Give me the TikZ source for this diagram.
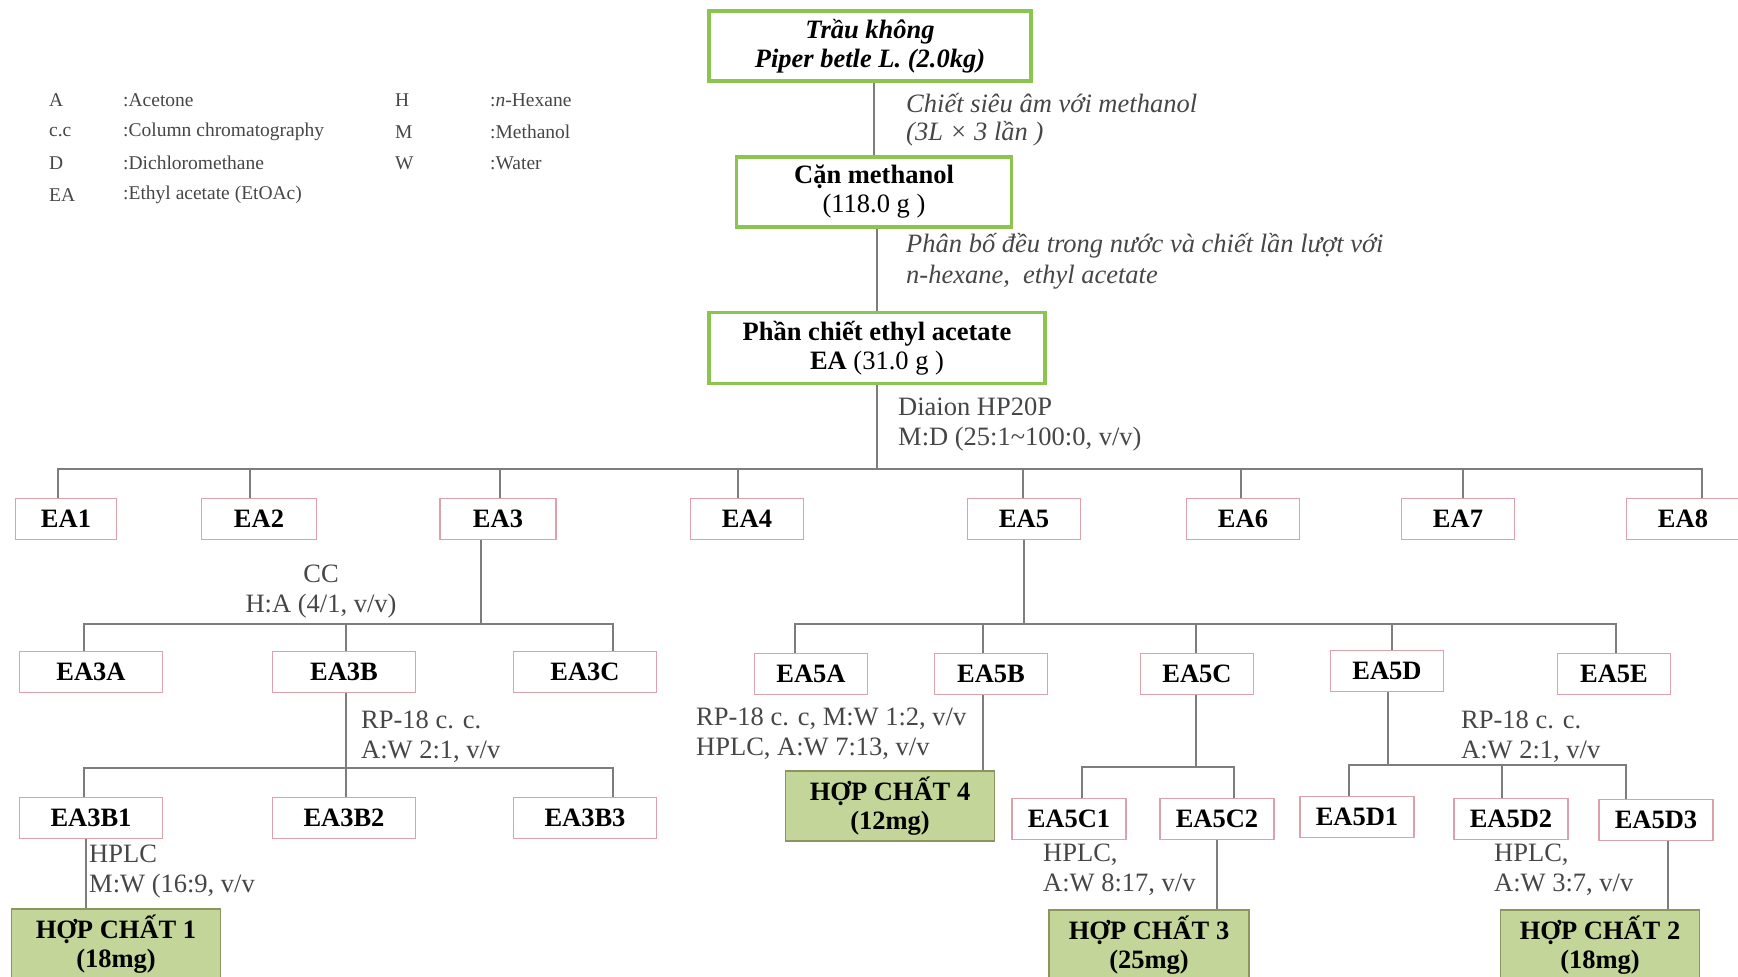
\documentclass[tikz,border=0pt]{standalone}
\usepackage{fontspec}
\setmainfont{Liberation Serif}
\usepackage{tikz}

\definecolor{boxgreen}{RGB}{140,196,80}
\definecolor{boxpink}{RGB}{222,160,170}
\definecolor{linegray}{RGB}{125,125,125}
\definecolor{hcfill}{RGB}{195,213,152}
\definecolor{hcedge}{RGB}{140,148,95}
\definecolor{txtgray}{RGB}{70,70,70}

\begin{document}
\begin{tikzpicture}[x=1pt, y=-1pt,
  every node/.style={inner sep=0pt, align=center},
  topbox/.style={draw=boxgreen, line width=3.5pt, font=\fontsize{26.5}{29}\selectfont},
  eabox/.style={draw=boxpink, line width=1.5pt, minimum height=41pt, font=\fontsize{26.5}{29}\selectfont\bfseries},
  hcbox/.style={draw=hcedge, fill=hcfill, line width=1.5pt, minimum height=70pt, font=\fontsize{26.5}{29}\selectfont\bfseries},
  note/.style={align=left, anchor=west, text=txtgray, font=\fontsize{26.5}{30}\selectfont},
  legend/.style={anchor=west, text=txtgray, font=\fontsize{19.5}{22}\selectfont},
  conn/.style={draw=linegray, line width=1.5pt}]

\useasboundingbox (0,0) rectangle (1738,977);

% Legend
\foreach \k/\v/\y in {A/:Acetone/100, c.c/:Column chromatography/132, D/:Dichloromethane/163, EA/:Ethyl acetate (EtOAc)/195} {
    \node[legend] (abbr\k) at (49,\y) {\k};
    \node[legend] (expl\k) at (123,\y) {\v};
}
\foreach \k/\v/\y in {H/:\textit{n}-Hexane/100, M/:Methanol/132, W/:Water/163} {
    \node[legend] (abbr\k) at (395,\y) {\k};
    \node[legend] (expl\k) at (490,\y) {\v};
}

% Extraction steps
\node[topbox, minimum width=322, minimum height=70] (trau) at (870,46)
    {\textbf{\textit{Trầu không}}\\\textbf{\textit{Piper betle L. (2.0kg)}}};
\node[topbox, minimum width=275, minimum height=70] (can) at (874,192)
    {\textbf{Cặn methanol}\\(118.0 g )};
\node[topbox, minimum width=336, minimum height=71] (phan) at (877,348)
    {\textbf{Phần chiết ethyl acetate}\\\textbf{EA} (31.0 g )};

\draw[conn] (can.north) -- (can.north |- trau.south);
\draw[conn] (phan.north) -- (phan.north |- can.south);

\node[note, font=\fontsize{26.5}{28}\selectfont\itshape] (step1) at (906,120)
    {Chiết siêu âm với methanol\\(3L × 3 lần )};
\node[note, font=\fontsize{26.5}{31}\selectfont\itshape] (step2) at (906,261)
    {Phân bố đều trong nước và chiết lần lượt với\\n-hexane,\ \ ethyl acetate};
\node[note] (step3) at (898,425) {Diaion HP20P\\M:D (25:1\textasciitilde100:0, v/v)};

% First fractions EA1 - EA8
\foreach \i/\x/\w in {1/66/101, 2/259/115, 3/498/116, 4/747/113, 5/1024/113, 6/1243/113, 7/1458/113, 8/1683/113} {
    \node[eabox, minimum width=\w] (ea\i) at (\x,519) {EA\i};
}
\coordinate (bus1) at (877,469);
\draw[conn] (phan.south) -- (bus1);
\foreach \i/\dx in {1/-8, 2/-9, 3/2, 4/-9, 5/-1, 6/-2, 7/5, 8/19} {
    \draw[conn] ([xshift=\dx]ea\i.north) |- (bus1);
}

% Fractions of EA3
\foreach \n/\x in {A/91, B/344, C/585} {
    \node[eabox, minimum width=143] (ea3\n) at (\x,672) {EA3\n};
}
\coordinate (bus2) at (481,624);
\draw[conn] ([xshift=-17]ea3.south) -- (bus2);
\foreach \n/\dx in {A/-7, B/2, C/28} {
    \draw[conn] ([xshift=\dx]ea3\n.north) |- (bus2);
}
\node[text=txtgray, font=\fontsize{26.5}{30}\selectfont] (cc3) at (321,592) {CC\\H:A (4/1, v/v)};

% Fractions of EA3B
\foreach \n/\x in {1/91, 2/344, 3/585} {
    \node[eabox, minimum width=143] (ea3b\n) at (\x,818) {EA3B\n};
}
\coordinate (bus3) at (346,768);
\draw[conn] ([xshift=2]ea3B.south) -- (bus3);
\foreach \n/\dx in {1/-7, 2/2, 3/28} {
    \draw[conn] ([xshift=\dx]ea3b\n.north) |- (bus3);
}
\node[note] (rp3b) at (361,737) {RP-18 c. c.\\A:W 2:1, v/v};

% Compound 1
\node[hcbox, minimum width=209] (hc1) at (116,944) {HỢP CHẤT 1\\(18mg)};
\draw[conn] ([xshift=-5]ea3b1.south) -- ([xshift=-5]ea3b1.south |- hc1.north);
\node[note] (hplc1) at (89,872) {HPLC\\M:W (16:9, v/v};

% Fractions of EA5
\foreach \n/\x/\y in {A/811/674, B/991/674, C/1197/674, D/1387/671, E/1614/674} {
    \node[eabox, minimum width=113] (ea5\n) at (\x,\y) {EA5\n};
}
\coordinate (bus4) at (1023,624);
\draw[conn] (ea5.south) -- (ea5.south |- bus4);
\foreach \n/\dx in {A/-16, B/-8, C/-1, D/5, E/2} {
    \draw[conn] ([xshift=\dx]ea5\n.north) |- (bus4);
}
\node[note] (rp5) at (696,734) {RP-18 c. c, M:W 1:2, v/v\\HPLC, A:W 7:13, v/v};

% Compound 4
\node[hcbox, minimum width=209] (hc4) at (890,806) {HỢP CHẤT 4\\(12mg)};
\draw[conn] ([xshift=-8]ea5B.south) -- ([xshift=-8]ea5B.south |- hc4.north);

% Fractions of EA5C
\foreach \n/\x in {1/1069, 2/1217} {
    \node[eabox, minimum width=114] (ea5c\n) at (\x,819) {EA5C\n};
}
\coordinate (bus5) at (1196,767);
\draw[conn] ([xshift=-1]ea5C.south) -- (bus5);
\foreach \n/\dx in {1/13, 2/17} {
    \draw[conn] ([xshift=\dx]ea5c\n.north) |- (bus5);
}
\node[note] (hplc3) at (1043,870) {HPLC,\\A:W 8:17, v/v};

% Compound 3
\node[hcbox, minimum width=200] (hc3) at (1149,945) {HỢP CHẤT 3\\(25mg)};
\draw[conn] (ea5c2.south) -- (ea5c2.south |- hc3.north);

% Fractions of EA5D
\foreach \n/\x/\y in {1/1357/817, 2/1511/819, 3/1656/820} {
    \node[eabox, minimum width=114] (ea5d\n) at (\x,\y) {EA5D\n};
}
\coordinate (bus6) at (1388,765);
\draw[conn] ([xshift=1]ea5D.south) -- (bus6);
\foreach \n/\dx in {1/-8, 2/-9, 3/-30} {
    \draw[conn] ([xshift=\dx]ea5d\n.north) |- (bus6);
}
\node[note] (rp5d) at (1461,737) {RP-18 c. c.\\A:W 2:1, v/v};
\node[note] (hplc2) at (1494,870) {HPLC,\\A:W 3:7, v/v};

% Compound 2
\node[hcbox, minimum width=199] (hc2) at (1600,945) {HỢP CHẤT 2\\(18mg)};
\draw[conn] ([xshift=12]ea5d3.south) -- ([xshift=12]ea5d3.south |- hc2.north);

\end{tikzpicture}
\end{document}
